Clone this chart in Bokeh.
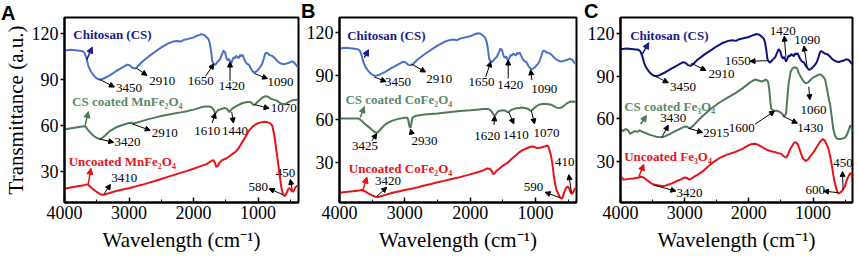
from bokeh.plotting import figure
from bokeh.layouts import row
from bokeh.models import Range1d, FixedTicker, Arrow, NormalHead, ColumnDataSource, Div
from bokeh.core.properties import value
from bokeh.embed import file_html
from bokeh.resources import INLINE

# ---------------- data (wavenumber, transmittance) ----------------
cs_wn = [4000,3900,3800,3720,3690,3660,3630,3600,3560,3520,3480,3450,3400,3300,3200,3100,3030,2990,2950,2910,
         2870,2800,2700,2600,2500,2400,2320,2260,2200,2150,2100,2000,1950,1880,1840,1800,1770,1750,1730,1710,
         1690,1670,1650,1620,1590,1560,1535,1510,1490,1470,1450,1430,1420,1400,1380,1360,1340,1320,1300,1280,
         1260,1240,1220,1200,1170,1140,1110,1080,1060,1030,1000,970,940,910,890,870,850,820,780,740,
         700,650,600,560,520,480,440,400,380]
cs_t = [109,109.5,109,108.5,107.5,104,99,96,93.5,91.5,90.4,90,90.6,92.8,95.5,98,99.8,99.4,97.8,97.3,
        98.4,101.5,105,108,111,113.5,114.8,115.2,114.8,116,116.4,117.5,118.5,119.6,119.2,117.8,116.5,114,109,102,
        100.3,99.5,100.5,102,103.3,106.5,109,107.5,104,102.5,103.5,101.5,100.3,102.5,104.5,104,105.5,104.8,104,106,
        105.3,106.2,104,102,100.2,99.6,97,95.3,94.5,95.2,96.5,98,100,104,107,107.6,107,106,105.5,104,
        102,100.5,100,100.5,101,102,101.2,99,98]

mncs_wn = [4000,3900,3800,3700,3670,3640,3600,3550,3500,3450,3400,3350,3300,3200,3100,3000,2960,2930,2900,2800,
           2700,2600,2500,2400,2300,2200,2100,2000,1900,1850,1800,1760,1720,1690,1665,1645,1620,1590,1560,1520,
           1490,1465,1445,1425,1400,1370,1330,1280,1240,1200,1160,1120,1095,1070,1045,1010,970,930,890,860,
           830,800,760,720,680,640,600,570,540,500,460,420,380]
mncs_t = [57.5,58.3,59,59.6,59.3,57.5,55.5,53.5,52,51.3,52.5,54.5,56.5,59,60.5,61.8,62,61.3,61.8,63,
          64.3,65.3,66.3,67.2,68,68.7,69.5,70.5,71.8,72.4,72.6,72.5,72,70.5,68.2,68.6,70.3,70.6,71,71.5,
          71.3,70,68.8,70,71.2,72,73,74,74.8,75.2,75.5,75.5,74.6,73.5,74,75.5,77,78.5,79.2,79.1,
          78.5,77.5,77,76.5,75.5,74.3,74,74.3,75,76,76.6,77,77]

mn_wn = [4000,3900,3800,3700,3650,3630,3580,3520,3460,3420,3380,3300,3200,3100,3000,2900,2800,2700,2600,2500,
         2400,2300,2200,2100,2000,1900,1800,1720,1690,1670,1650,1630,1600,1560,1500,1450,1400,1350,1300,1250,
         1200,1150,1100,1050,1000,950,900,870,840,810,780,750,720,700,670,640,620,600,580,560,
         540,520,500,480,460,440,420,400,380]
mn_t = [19,19.8,20.6,21.3,21.8,21.5,19.5,17.5,15.8,15,15.2,16.2,17.5,18.5,19.3,20.5,21.5,22.8,24,25.3,
        26.7,28,29.3,30.6,32,33.5,35,37.2,37.6,36,33.2,33.5,35.8,37.6,38.5,40,41.5,43,45.5,49,
        52.5,56.3,58.8,60.5,61.7,62.2,62.6,62.5,62,61.5,60,54,45,39,29,20,16,14.5,14.3,16,
        18.2,19.3,18.8,17.5,17,18,20,20.8,21]

cocs_wn = [4000,3900,3800,3720,3690,3650,3600,3550,3500,3460,3430,3400,3370,3330,3280,3200,3100,3000,2960,2945,
           2930,2915,2900,2885,2860,2800,2700,2600,2500,2400,2300,2200,2100,2000,1900,1800,1760,1720,1690,1660,
           1640,1620,1600,1570,1520,1480,1450,1425,1405,1380,1350,1300,1250,1200,1150,1110,1085,1065,1040,1000,
           950,900,850,800,760,720,680,640,600,560,520,480,440,400,380]
cocs_t = [60.5,60.5,60.5,60.5,60,58.3,56.2,54.5,52.5,51,50.5,51.5,53,55,57,58.8,60.2,61,61,59,
          55,53.8,57,61,61.8,62.6,63.2,63.6,64,64.5,65,65.5,65.9,66.2,66.6,67,67.1,67,66.3,64.5,
          63,62.7,63.8,65.5,66,66.2,65.6,64.8,65.2,66.2,66.8,67.5,67.8,68,67.6,67,66,65.8,66.8,68.5,
          70,70.5,70.6,70.3,70,69,68,67.8,68,69.5,71,72,72.2,72,72]

co_wn = [4000,3900,3800,3700,3660,3620,3560,3500,3450,3420,3380,3300,3200,3100,3000,2900,2800,2700,2600,2500,
         2400,2300,2200,2100,2000,1900,1800,1740,1700,1670,1645,1625,1600,1560,1520,1480,1420,1360,1300,1250,
         1200,1150,1100,1060,1020,980,940,900,860,830,805,785,765,745,720,700,676,650,630,610,
         590,570,550,530,510,490,470,450,430,410,390,375]
co_t = [8.9,9.5,10,10.6,10.9,10.2,8.5,7.2,6.2,6,6.4,7.5,8.8,9.8,10.8,11.7,12.8,14,15,16.2,
        17.2,18.3,19.3,20.5,21.7,23,24.5,25.8,25.6,24,21.8,22.5,24,25.5,27,28.3,30,32.7,35,37,
        38.5,39.5,40.5,41,40.8,40,40.2,40.5,41,41.6,41.2,38.5,35,30,21,15,10.5,8,6.2,5,
        5.2,8,10.5,12.5,13.3,12.5,10,8.2,8.8,10.5,12,12.5]

fecs_wn = [4000,3960,3920,3880,3850,3820,3780,3740,3700,3660,3600,3550,3500,3450,3400,3350,3300,3250,3200,3100,
           3000,2960,2930,2900,2860,2800,2720,2600,2470,2350,2210,2100,2000,1950,1900,1850,1800,1760,1730,1700,
           1680,1665,1650,1620,1600,1560,1520,1490,1460,1440,1420,1400,1380,1350,1320,1280,1250,1220,1190,1150,
           1117,1080,1050,1016,980,940,900,870,840,812,790,770,750,736,710,684,660,630,608,570,
           540,500,470,440,420,400,385]
fecs_t = [52.9,51.5,53,52,49.5,50.5,51.5,51,52,51,50,49,48.3,47.6,47.3,47.2,48,49,50.3,52.5,
          54.7,54.5,53.4,54,55.5,58.5,62.1,66.8,71.2,74.5,78.1,81.5,85,86.5,87.7,87,86.3,87,87.7,86,
          80,72,67,66,65.8,65.8,65,64,62.5,62,64,75,85,93,95.5,96.4,95.5,92,89.5,86.5,
          85,85.5,87,88.4,89.5,90.5,91.3,91,89.5,87.7,83,78,73,71,62,52.9,48.5,46.3,46,46,
          46.3,47,49,53,55.6,54,51]

fe_wn = [4000,3950,3900,3800,3720,3680,3640,3580,3520,3480,3420,3350,3300,3250,3200,3127,3050,3000,2960,2930,
         2900,2850,2800,2720,2640,2560,2466,2350,2211,2100,2008,1950,1905,1860,1800,1753,1700,1652,1600,1540,
         1499,1460,1423,1390,1350,1300,1270,1240,1200,1160,1117,1080,1040,989,940,890,847,820,790,760,
         730,700,684,660,630,608,580,550,531,500,481,450,420,405,390]
fe_t = [19.7,17.4,17.8,18.3,19,19.5,19,16.8,14.8,14,13.5,13,13.2,14,14.8,16.3,17.8,19,18.6,17.4,
        18,19.5,20.8,23.2,26.5,29.5,32.3,34.8,36.9,39,41.5,42.5,42.6,42,40.5,39.2,38,37.4,36.8,36,
        35.7,34,32.8,35,39.5,43,43.7,42.5,37.5,32.5,30.5,31.5,34,36.9,40.5,44,46,45,42.5,39.2,
        33,25.5,20.9,15,10,7.6,8.2,9.5,10.6,13,16.3,19.5,22,22,19]

x_ticks = [4000, 3000, 2000, 1000]
x_minor = [3500, 2500, 1500, 500]
y_ticks = [30, 60, 90, 120]
panel_letters = ["A", "B", "C"]

# peak labels: (x, y, text)
peaks_a = [(3202, 84.4, "3450"), (2686, 89.2, "2910"), (2091, 89.2, "1650"), (1611, 85.6, "1420"),
           (853, 88.5, "1090"), (3227, 49.2, "3420"), (2647, 55.5, "2910"), (1990, 56.5, "1610"),
           (1561, 56.5, "1440"), (803, 71.3, "1070"), (3277, 26.0, "3410"), (1147, 20.3, "580"),
           (727, 29.0, "450")]
peaks_b = [(3303, 85.5, "3450"), (2671, 87.8, "2910"), (2024, 85.5, "1650"), (1585, 83.8, "1420"),
           (1065, 81.1, "1090"), (3808, 41.5, "3425"), (2898, 44.9, "2930"), (1939, 48.2, "1620"),
           (1500, 49.3, "1410"), (1030, 50.5, "1070"), (3455, 17.1, "3420"), (1182, 12.7, "590"),
           (702, 30.0, "410")]
peaks_c = [(3229, 82.7, "3450"), (2629, 91.3, "2910"), (2374, 100.5, "1650"), (1676, 121.5, "1420"),
           (1294, 115.1, "1090"), (3382, 60.9, "3430"), (2710, 50.1, "2915"), (2313, 53.4, "1600"),
           (1244, 54.0, "1430"), (1194, 66.6, "1060"), (3127, 8.3, "3420"), (1118, 9.9, "600"),
           (684, 28.9, "450")]

# black arrows (x0, y0, x1, y1), head at (x1, y1)
arrows_a = [(3455, 90.2, 3227, 85.2), (2889, 97.6, 2722, 92.8), (1813, 92.3, 1687, 100.3),
            (1435, 89.2, 1435, 101.5), (1056, 94.0, 853, 90.7), (3455, 51.3, 3238, 49.2),
            (2950, 61.2, 2671, 57.0), (1712, 61.8, 1662, 68.3), (1409, 69.0, 1383, 61.8),
            (1056, 73.8, 829, 71.3), (3389, 15.5, 3288, 21.8), (611, 15.0, 829, 19.0),
            (470, 18.0, 500, 25.0)]
arrows_b = [(3470, 89.3, 3288, 86.0), (2898, 98.2, 2682, 92.7), (1762, 89.3, 1686, 99.8),
            (1418, 88.2, 1418, 101.0), (1055, 87.1, 1075, 94.2), (3505, 44.9, 3432, 50.0),
            (2890, 49.3, 2912, 53.1), (1636, 56.0, 1625, 62.3), (1409, 64.9, 1333, 56.7),
            (1065, 66.0, 1015, 56.7), (3429, 6.5, 3277, 12.7), (626, 5.5, 853, 9.3),
            (448, 8.5, 490, 21.5)]
arrows_c = [(3484, 90.6, 3255, 85.4), (2898, 99.1, 2669, 94.1), (1702, 100.9, 1982, 100.5),
            (1423, 103.3, 1448, 118.1), (1092, 96.4, 1142, 111.2), (3356, 47.2, 3255, 55.6),
            (2934, 53.4, 2721, 50.6), (1905, 56.3, 1600, 65.5), (1473, 62.1, 1244, 57.0),
            (1066, 82.7, 1050, 73.5), (3484, 13.6, 3137, 9.4), (608, 8.3, 837, 9.4),
            (531, 10.6, 542, 23.2)]

# series names: (x, y, text)
names_a = [(3864, 119.3, "Chitosan (CS)"), (3883, 75.5, "CS coated MnFe\u2082O\u2084"), (3935, 36.5, "Uncoated MnFe\u2082O\u2084")]
names_b = [(3883, 118.2, "Chitosan (CS)"), (3909, 73.8, "CS coated CoFe\u2082O\u2084"), (3858, 26.0, "Uncoated CoFe\u2082O\u2084")]
names_c = [(3850, 118.8, "Chitosan (CS)"), (3942, 68.9, "CS coated Fe\u2083O\u2084"), (3942, 33.5, "Uncoated Fe\u2083O\u2084")]

# coloured arrows from curve to its name: navy, green, red
name_arrows_a = [(3656, 102.9, 3571, 111.3), (3682, 59.7, 3632, 69.2), (3632, 21.8, 3591, 32.3)]
name_arrows_b = [(3621, 102.7, 3555, 108.2), (3682, 61.1, 3621, 68.7), (3641, 10.9, 3580, 19.8)]
name_arrows_c = [(3661, 105.5, 3560, 113.5), (3687, 56.3, 3595, 62.5), (3713, 19.7, 3637, 28.2)]

# ---------------- styling ----------------
SERIF = "Liberation Serif"
CS_BLUE = "#4b72c8"
CS_NAVY = "#0c1280"
NAME_NAVY = "#1a1a8c"
GREEN = "#4d7a58"
NAME_GREEN = "#5b8a69"
RED = "#e5141b"
NAME_RED = "#e3161c"
H = 267


def make_panel(width, left, right, top, bottom, x_end, y_rng, cs_color, series,
               peaks, arrows, names, name_arrows, show_ylabel):
    p = figure(width=width, height=H, x_range=Range1d(4000, x_end), y_range=Range1d(*y_rng),
               output_backend="svg", toolbar_location=None,
               min_border_left=left, min_border_right=right,
               min_border_top=top, min_border_bottom=bottom)
    p.background_fill_color = "white"
    p.border_fill_color = "white"
    p.xgrid.visible = False
    p.ygrid.visible = False
    p.outline_line_color = "black"
    p.outline_line_width = 2
    p.outline_line_alpha = 1

    p.xaxis.ticker = FixedTicker(ticks=x_ticks, minor_ticks=x_minor)
    p.yaxis.ticker = FixedTicker(ticks=y_ticks, minor_ticks=[])
    for ax in (p.xaxis[0], p.yaxis[0]):
        ax.axis_line_width = 2
        ax.axis_line_color = "black"
        ax.major_tick_line_color = "black"
        ax.major_tick_line_width = 1.5
        ax.minor_tick_line_color = "black"
        ax.major_label_text_font = SERIF
        ax.major_label_text_font_size = "18px"
        ax.major_label_text_color = "black"
        ax.axis_label_text_font = SERIF
        ax.axis_label_text_font_size = "21px"
        ax.axis_label_text_font_style = "normal"
        ax.axis_label_text_color = "black"
    p.xaxis.major_tick_in = 5
    p.xaxis.major_tick_out = 0
    p.xaxis.minor_tick_in = 3
    p.xaxis.minor_tick_out = 0
    p.xaxis.major_label_standoff = 3
    p.xaxis.axis_label = "Wavelength (cm\u207b\u00b9)"
    p.xaxis.axis_label_standoff = 6
    p.yaxis.major_tick_in = 0
    p.yaxis.major_tick_out = 4
    p.yaxis.minor_tick_line_color = None
    p.yaxis.major_label_standoff = 2
    if show_ylabel:
        p.yaxis.axis_label = "Transmittance (a.u.)"
        p.yaxis.axis_label_standoff = 1

    # series names
    for (x, y, t), col in zip(names, (NAME_NAVY, NAME_GREEN, NAME_RED)):
        p.text(x=[x], y=[y], text=[t], text_font=value(SERIF), text_font_style="bold",
               text_font_size=value("13px"), text_color=col, text_align="left", text_baseline="middle")
    # peak labels
    p.text(x=[a[0] for a in peaks], y=[a[1] for a in peaks], text=[a[2] for a in peaks],
           text_font=value(SERIF), text_font_size=value("13px"), text_color="black",
           text_align="left", text_baseline="middle")

    # curves
    for (wx, wy), col in zip(series, (cs_color, GREEN, RED)):
        p.line(wx, wy, line_color=col, line_width=2)

    # black arrows
    src = ColumnDataSource(dict(x0=[a[0] for a in arrows], y0=[a[1] for a in arrows],
                                x1=[a[2] for a in arrows], y1=[a[3] for a in arrows]))
    p.add_layout(Arrow(end=NormalHead(size=5, line_color="black", fill_color="black", line_width=1),
                       x_start="x0", y_start="y0", x_end="x1", y_end="y1", source=src,
                       line_color="black", line_width=1))
    for a, col in zip(name_arrows, (NAME_NAVY, GREEN, RED)):
        p.add_layout(Arrow(end=NormalHead(size=6, line_color=col, fill_color=col, line_width=1),
                           x_start=a[0], y_start=a[1], x_end=a[2], y_end=a[3],
                           line_color=col, line_width=1.5))
    return p


pA = make_panel(303, 59, 5, 17, 60, 374, (10, 130.5), CS_BLUE,
                [(cs_wn, cs_t), (mncs_wn, mncs_t), (mn_wn, mn_t)],
                peaks_a, arrows_a, names_a, name_arrows_a, True)
pB = make_panel(281, 34, 8, 13, 61, 373, (2.2, 130.5), CS_BLUE,
                [(cs_wn, cs_t), (cocs_wn, cocs_t), (co_wn, co_t)],
                peaks_b, arrows_b, names_b, name_arrows_b, False)
pC = make_panel(274, 33, 6, 13, 65, 385, (1.4, 131.2), CS_NAVY,
                [(cs_wn, cs_t), (fecs_wn, fecs_t), (fe_wn, fe_t)],
                peaks_c, arrows_c, names_c, name_arrows_c, False)

# panel letters overlaid at the top-left corner of each panel
letter_pos = [(1, 3), (301, 1), (584, 1)]
spans = "".join(
    '<span style="position:absolute;left:%dpx;top:%dpx;font-family:\'Liberation Sans\';'
    'font-weight:bold;font-size:20px;line-height:20px;color:#000;">%s</span>' % (lx, ly, t)
    for (lx, ly), t in zip(letter_pos, panel_letters))
letters = Div(text=spans, width=858, height=24,
              styles={"position": "absolute", "left": "0px", "top": "0px", "z-index": "10",
                      "pointer-events": "none", "margin": "0px", "padding": "0px"})

layout = row(pA, pB, pC, letters)
open("out.html", "w").write(file_html(layout, INLINE))
